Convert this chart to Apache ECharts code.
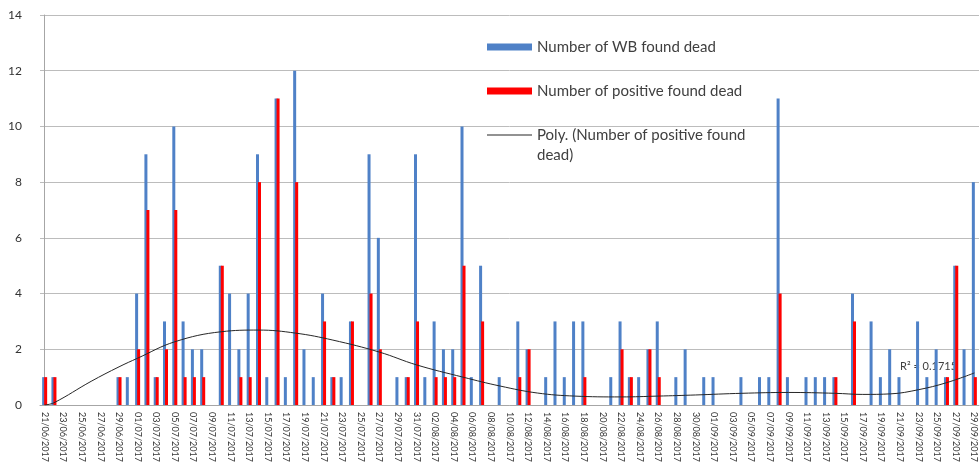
<!DOCTYPE html>
<html>
<head>
<meta charset="utf-8">
<script src="https://cdn.jsdelivr.net/npm/echarts@6/dist/echarts.min.js"></script>
<style>
html, body { margin: 0; padding: 0; background: #fff; }
#chart { width: 980px; height: 467px; }
</style>
</head>
<body>
<div id="chart"></div>
<script>
// one category per day, 21/06/2017 .. 29/09/2017
const dates = []
for (let d = new Date(2017, 5, 21); d <= new Date(2017, 8, 29); d.setDate(d.getDate() + 1)) {
  dates.push(String(d.getDate()).padStart(2, '0') + '/' + String(d.getMonth() + 1).padStart(2, '0') + '/2017')
}

const wbDead = [
  1, 1, 0, 0, 0, 0, 0, 0, 1, 1,
  4, 9, 1, 3, 10, 3, 2, 2, 0, 5,
  4, 2, 4, 9, 1, 11, 1, 12, 2, 1,
  4, 1, 1, 3, 0, 9, 6, 0, 1, 1,
  9, 1, 3, 2, 2, 10, 1, 5, 0, 1,
  0, 3, 2, 0, 1, 3, 1, 3, 3, 0,
  0, 1, 3, 1, 1, 2, 3, 0, 1, 2,
  0, 1, 1, 0, 0, 1, 0, 1, 1, 11,
  1, 0, 1, 1, 1, 1, 0, 4, 0, 3,
  1, 2, 1, 0, 3, 1, 2, 1, 5, 2,
  8
]

const positiveDead = [
  1, 1, 0, 0, 0, 0, 0, 0, 1, 0,
  2, 7, 1, 2, 7, 1, 1, 1, 0, 5,
  0, 1, 1, 8, 0, 11, 0, 8, 0, 0,
  3, 1, 0, 3, 0, 4, 2, 0, 0, 1,
  3, 0, 1, 1, 1, 5, 0, 3, 0, 0,
  0, 1, 2, 0, 0, 0, 0, 0, 1, 0,
  0, 0, 2, 1, 0, 2, 1, 0, 0, 0,
  0, 0, 0, 0, 0, 0, 0, 0, 0, 4,
  0, 0, 0, 0, 0, 1, 0, 3, 0, 0,
  0, 0, 0, 0, 0, 0, 0, 1, 5, 0,
  1
]

// polynomial trendline at these day indexes
const polyDays = [0, 1, 5, 8, 10, 14, 19, 23, 27, 31, 36, 40, 45, 49, 53, 57, 62, 66, 70, 75, 80, 85, 88, 91, 94, 97, 100]
const polyValues = [0.0, 0.08, 0.85, 1.37, 1.68, 2.27, 2.63, 2.69, 2.58, 2.33, 1.9, 1.44, 1.0, 0.68, 0.43, 0.32, 0.29, 0.32, 0.36, 0.42, 0.45, 0.42, 0.38, 0.4, 0.55, 0.8, 1.15]

const FONT = 'Lato, "Open Sans", sans-serif'
const chart = echarts.init(document.getElementById('chart'))

chart.setOption({
  animation: false,
  backgroundColor: '#fff',
  textStyle: { fontFamily: FONT },
  grid: { left: 40, right: 1, top: 15, bottom: 62 },
  legend: [
    {
      orient: 'vertical',
      left: 482,
      top: 32,
      itemWidth: 45,
      itemHeight: 7,
      itemGap: 24,
      selectedMode: false,
      icon: 'rect',
      data: ['Number of WB found dead', 'Number of positive found dead'],
      textStyle: { fontSize: 15, lineHeight: 20, color: '#404040', fontFamily: FONT }
    },
    {
      orient: 'vertical',
      left: 482,
      top: 100,
      itemWidth: 45,
      itemHeight: 1,
      selectedMode: false,
      data: [{ name: 'Poly. (Number of positive found dead)', icon: 'rect', itemStyle: { color: '#262626' } }],
      formatter: () => '\nPoly. (Number of positive found\ndead)',
      textStyle: { fontSize: 15, lineHeight: 20, color: '#404040', fontFamily: FONT }
    }
  ],
  xAxis: [
    {
      type: 'category',
      data: dates,
      boundaryGap: true,
      axisLine: { lineStyle: { color: '#a6a6a6' } },
      axisTick: { interval: 1, length: 4, lineStyle: { color: '#a6a6a6' } },
      axisLabel: { interval: 1, rotate: -90, fontSize: 9, margin: 7, color: '#333' }
    },
    {
      type: 'value',
      min: -0.5,
      max: dates.length - 0.5,
      show: false
    }
  ],
  yAxis: {
    type: 'value',
    min: 0,
    max: 14,
    interval: 2,
    axisLine: { show: true, lineStyle: { color: '#a6a6a6' } },
    axisTick: { show: false },
    splitLine: { lineStyle: { color: '#bcbcbc' } },
    axisLabel: { fontSize: 12, margin: 18, color: '#333' }
  },
  series: [
    {
      name: 'Number of WB found dead',
      type: 'bar',
      data: wbDead,
      barWidth: 3,
      barGap: '-33%',
      itemStyle: { color: '#4f81c7' }
    },
    {
      name: 'Number of positive found dead',
      type: 'bar',
      data: positiveDead,
      barWidth: 3,
      itemStyle: { color: '#ff0000' }
    },
    {
      name: 'Poly. (Number of positive found dead)',
      type: 'line',
      xAxisIndex: 1,
      data: polyDays.map((d, i) => [d, polyValues[i]]),
      smooth: 0.4,
      symbol: 'none',
      lineStyle: { color: '#262626', width: 1 },
      itemStyle: { color: '#262626' },
      z: 3
    }
  ],
  graphic: [
    {
      type: 'text',
      left: 900,
      top: 361,
      z: 1,
      style: { text: 'R² = 0.1715', fontSize: 11, fill: '#404040', fontFamily: FONT }
    }
  ]
})
</script>
</body>
</html>
